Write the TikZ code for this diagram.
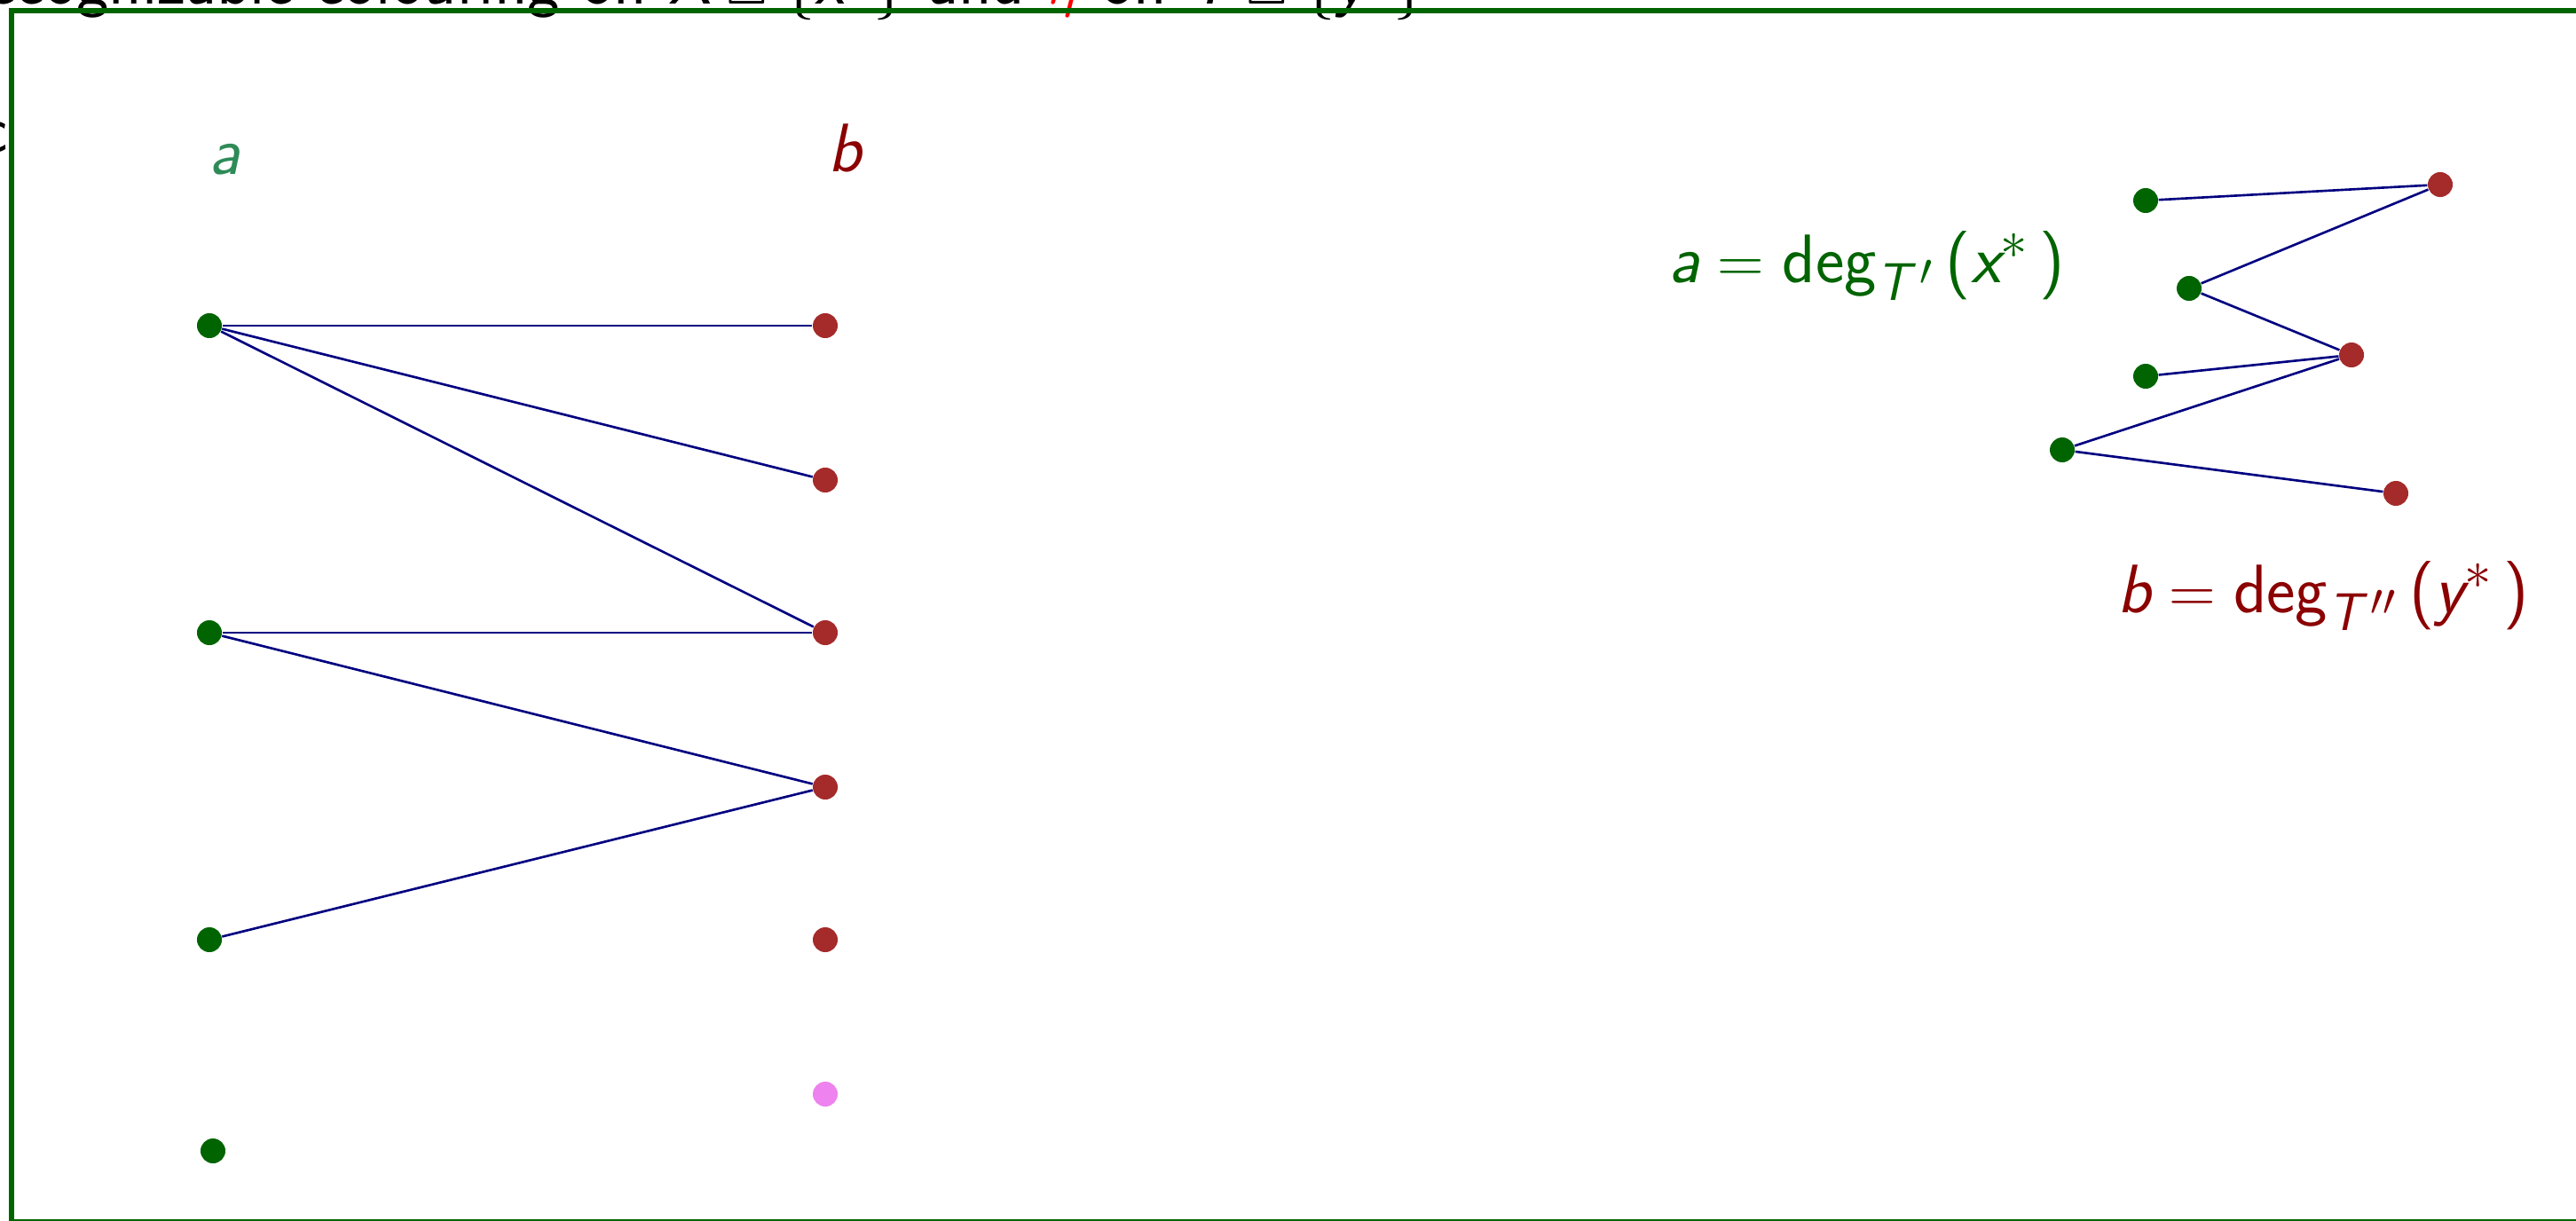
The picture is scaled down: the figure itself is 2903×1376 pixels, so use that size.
\documentclass[tikz,border=0pt]{standalone}
\usepackage{amsmath}
\DeclareMathSizes{22}{22}{17}{14}
\definecolor{frameg}{HTML}{006400}
\definecolor{dotg}{HTML}{006400}
\definecolor{dotr}{HTML}{A52A2A}
\definecolor{dotp}{HTML}{EE82EE}
\definecolor{edgeb}{HTML}{000080}
\definecolor{labg}{HTML}{2E8B57}
\definecolor{labr}{HTML}{8B0000}
\newcommand{\sv}[1]{\textsf{\slshape #1}}
\begin{document}
\begin{tikzpicture}[x=0.01cm,y=-0.01cm,
  gdot/.style={circle,fill=dotg,inner sep=0pt,minimum size=0.28cm},
  rdot/.style={circle,fill=dotr,inner sep=0pt,minimum size=0.28cm},
  pdot/.style={circle,fill=dotp,inner sep=0pt,minimum size=0.28cm},
  edge/.style={edgeb,line width=0.75pt},
  lab/.style={font=\fontsize{22}{26}\selectfont\sffamily,inner sep=0pt}]
\useasboundingbox (0,0) rectangle (2903,1376);
\clip (0,0) rectangle (2903,1376);
% clipped texts
\node[lab,anchor=base west] (top) at (-40,5) {recognizable colouring on $\sv{X}\sqcup\{\sv{x}^{*}\}$ and {\color{red}$\eta$} on $\sv{Y}\sqcup\{\sv{y}^{*}\}$};
\node[lab,anchor=base east] (cc) at (10,172) {c};
% frame
\draw[frameg,line width=0.06cm] (13,12) rectangle (2920,1377);
% labels
\node[lab,anchor=base,text=labg] (la) at (253,197) {\slshape a};
\node[lab,anchor=base,text=labr] (lb) at (952,194) {\slshape b};
% left graph
\node[gdot] (g1) at (236,367) {};
\node[gdot] (g2) at (236,713) {};
\node[gdot] (g3) at (236,1059) {};
\node[gdot] (g4) at (240,1297) {};
\node[rdot] (r1) at (930,367) {};
\node[rdot] (r2) at (930,541) {};
\node[rdot] (r3) at (930,713) {};
\node[rdot] (r4) at (930,887) {};
\node[rdot] (r5) at (930,1059) {};
\node[pdot] (r6) at (930,1233) {};
\draw[edge] (g1) -- (r1);
\draw[edge] (g1) -- (r2);
\draw[edge] (g1) -- (r3);
\draw[edge] (g2) -- (r3);
\draw[edge] (g2) -- (r4);
\draw[edge] (g3) -- (r4);
% right graph
\node[gdot] (h1) at (2418,226) {};
\node[gdot] (h2) at (2467,325) {};
\node[gdot] (h3) at (2418,424) {};
\node[gdot] (h4) at (2324,507) {};
\node[rdot] (s1) at (2750,208) {};
\node[rdot] (s2) at (2650,400) {};
\node[rdot] (s3) at (2700,556) {};
\draw[edge] (h1) -- (s1);
\draw[edge] (h2) -- (s1);
\draw[edge] (h2) -- (s2);
\draw[edge] (h3) -- (s2);
\draw[edge] (h4) -- (s2);
\draw[edge] (h4) -- (s3);
% formulas
\node[lab,anchor=base west,text=frameg] (fa) at (1880,318) {$\sv{a} = \textsf{deg}_{\sv{T}\,'}\,\textsf{(}\sv{x}^{*}\,\textsf{)}$};
\node[lab,anchor=base west,text=labr] (fb) at (2386,690) {$\sv{b} = \textsf{deg}_{\sv{T}\,''}\,\textsf{(}\sv{y}^{*}\,\textsf{)}$};
\end{tikzpicture}
\end{document}
